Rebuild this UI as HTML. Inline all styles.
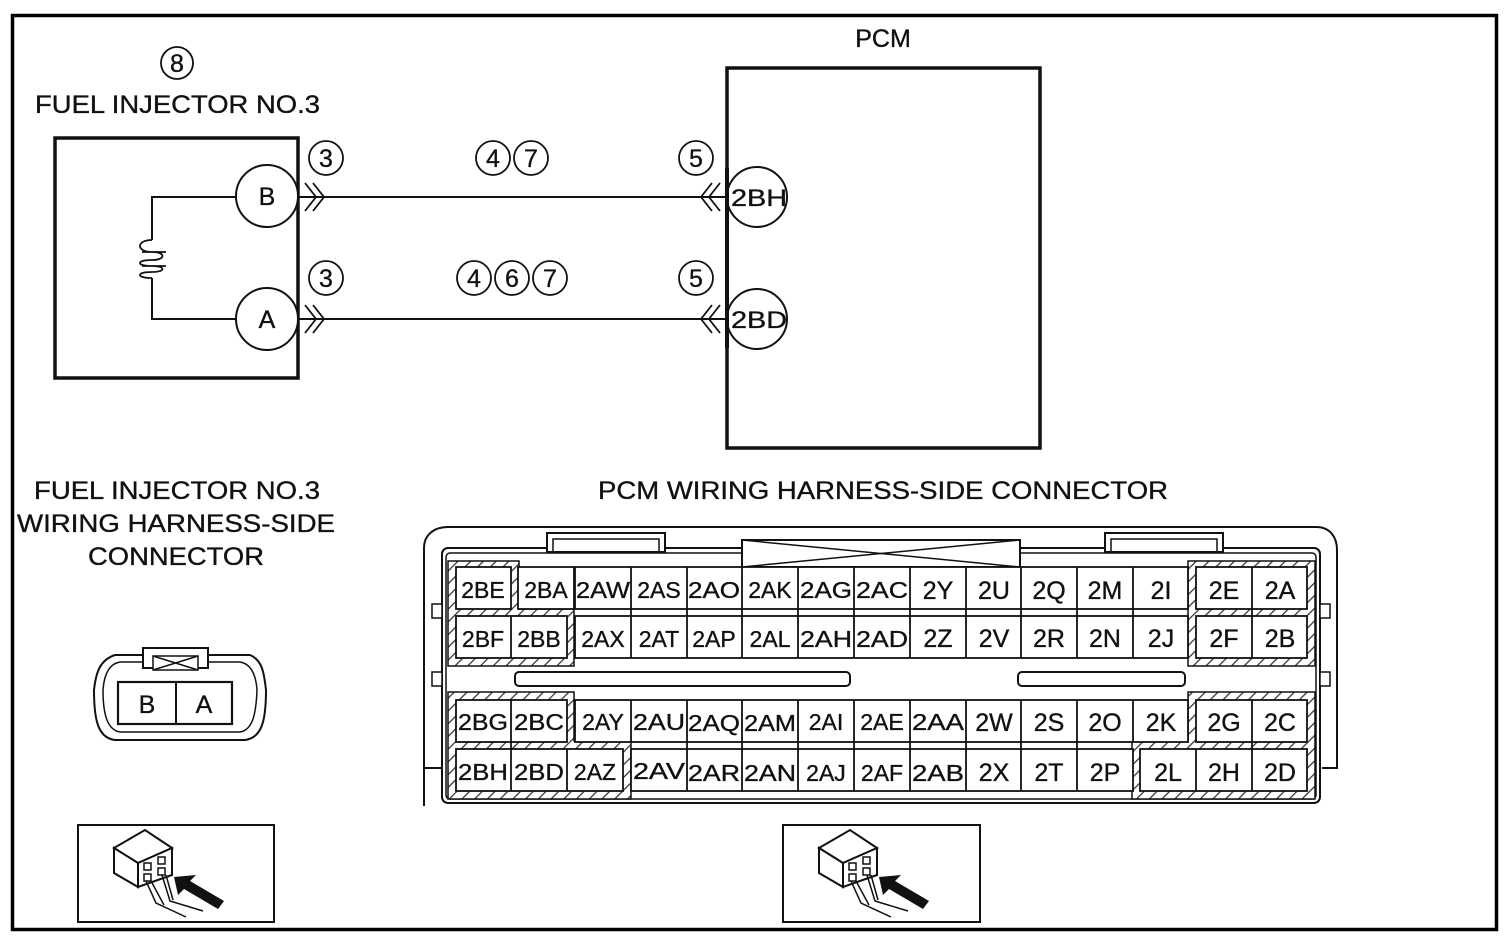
<!DOCTYPE html>
<html><head><meta charset="utf-8"><style>
html,body{margin:0;padding:0;background:#fff;}
svg{display:block;}
text{font-family:"Liberation Sans",sans-serif;fill:#111;stroke:#111;stroke-width:0.35;}
</style></head><body>
<svg width="1510" height="942" viewBox="0 0 1510 942" xmlns="http://www.w3.org/2000/svg">
<defs>
<pattern id="h" width="9" height="9" patternUnits="userSpaceOnUse" patternTransform="rotate(45)">
<rect width="9" height="9" fill="#fff"/><line x1="0" y1="0" x2="0" y2="9" stroke="#333" stroke-width="2.5"/>
</pattern>
<g id="icon">
<polygon points="36,23 67,5 94,23 60,38" fill="#fff" stroke="#111" stroke-width="2"/>
<polygon points="36,23 60,38 60,62 36,48" fill="#fff" stroke="#111" stroke-width="2"/>
<polygon points="60,38 94,23 94,50 60,62" fill="#fff" stroke="#111" stroke-width="2"/>
<rect x="66" y="38" width="7" height="7" fill="none" stroke="#111" stroke-width="1.5"/>
<rect x="80" y="32" width="7" height="7" fill="none" stroke="#111" stroke-width="1.5"/>
<rect x="66" y="49" width="7" height="7" fill="none" stroke="#111" stroke-width="1.5"/>
<rect x="80" y="43" width="7" height="7" fill="none" stroke="#111" stroke-width="1.5"/>
<path d="M68,56 L78,78 L108,92 M73,56 L86,80 M84,50 L92,76 L125,86 M88,50 L95,75" fill="none" stroke="#111" stroke-width="1.5"/>
<polygon points="100,70 96,52 118,50 112,56 146,76 140,84 106,64" fill="#111"/>
</g>
</defs>
<rect x="12.5" y="15.5" width="1484" height="914" fill="#fff" stroke="#000" stroke-width="3.5"/>

<text x="883" y="47" font-size="25" text-anchor="middle">PCM</text>
<circle cx="177" cy="63" r="16" fill="none" stroke="#111" stroke-width="1.8"/>
<text x="177" y="72" font-size="25" text-anchor="middle">8</text>
<text x="35" y="113" font-size="25" textLength="285" lengthAdjust="spacingAndGlyphs">FUEL INJECTOR NO.3</text>

<rect x="55" y="138" width="243" height="240" fill="none" stroke="#111" stroke-width="3.5"/>
<path d="M236,197 H152 V240 M152,278 V319 H236" fill="none" stroke="#111" stroke-width="2"/>
<path d="M152,240 C136,240 136,252 152,252 C166,252 166,260 152,260 C136,260 136,266 152,266 C166,266 166,272 152,272 C136,272 136,278 152,278 M142,252 H166 M142,266 H166" fill="none" stroke="#111" stroke-width="1.8"/>
<circle cx="267" cy="196" r="31" fill="#fff" stroke="#111" stroke-width="2"/>
<text x="267" y="205" font-size="25" text-anchor="middle">B</text>
<circle cx="267" cy="319" r="31" fill="#fff" stroke="#111" stroke-width="2"/>
<text x="267" y="328" font-size="25" text-anchor="middle">A</text>

<rect x="727" y="68" width="313" height="380" fill="none" stroke="#111" stroke-width="3.5"/>
<circle cx="757" cy="197" r="30" fill="#fff" stroke="#111" stroke-width="2"/>
<text x="759" y="206" font-size="24" text-anchor="middle" textLength="56" lengthAdjust="spacingAndGlyphs">2BH</text>
<circle cx="757" cy="319" r="30" fill="#fff" stroke="#111" stroke-width="2"/>
<text x="759" y="328" font-size="24" text-anchor="middle" textLength="56" lengthAdjust="spacingAndGlyphs">2BD</text>
<rect x="725" y="168" width="4" height="180" fill="#111"/>

<line x1="298" y1="197" x2="727" y2="197" stroke="#111" stroke-width="2"/>
<line x1="298" y1="319" x2="727" y2="319" stroke="#111" stroke-width="2"/>
<g fill="none" stroke="#111" stroke-width="1.8">
<path d="M305,183 L316,197 L305,211 M313,183 L324,197 L313,211"/>
<path d="M305,305 L316,319 L305,333 M313,305 L324,319 L313,333"/>
<path d="M720,183 L709,197 L720,211 M712,183 L701,197 L712,211"/>
<path d="M720,305 L709,319 L720,333 M712,305 L701,319 L712,333"/>
</g>
<g fill="none" stroke="#111" stroke-width="1.8">
<circle cx="326" cy="158" r="17"/><circle cx="493" cy="158" r="17"/><circle cx="531" cy="158" r="17"/><circle cx="696" cy="158" r="17"/>
<circle cx="326" cy="278" r="17"/><circle cx="474" cy="278" r="17"/><circle cx="512" cy="278" r="17"/><circle cx="550" cy="278" r="17"/><circle cx="696" cy="278" r="17"/>
</g>
<g font-size="25" text-anchor="middle">
<text x="326" y="167">3</text><text x="493" y="167">4</text><text x="531" y="167">7</text><text x="696" y="167">5</text>
<text x="326" y="287">3</text><text x="474" y="287">4</text><text x="512" y="287">6</text><text x="550" y="287">7</text><text x="696" y="287">5</text>
</g>

<g font-size="25" text-anchor="middle">
<text x="177" y="499" textLength="286" lengthAdjust="spacingAndGlyphs">FUEL INJECTOR NO.3</text>
<text x="176" y="532" textLength="318" lengthAdjust="spacingAndGlyphs">WIRING HARNESS-SIDE</text>
<text x="176" y="565" textLength="176" lengthAdjust="spacingAndGlyphs">CONNECTOR</text>
<text x="883" y="499" textLength="570" lengthAdjust="spacingAndGlyphs">PCM WIRING HARNESS-SIDE CONNECTOR</text>
</g>

<path d="M140,655 H250 C262,660 264,672 266,690 C266,720 262,738 245,740 H115 C98,738 94,720 94,690 C96,672 100,660 115,655 Z" fill="#fff" stroke="#111" stroke-width="2"/>
<path d="M120,662 H240 C252,664 256,676 257,690 C256,716 252,730 240,732 H120 C108,730 103,716 103,690 C104,676 108,664 120,662 Z" fill="none" stroke="#111" stroke-width="1.5"/>
<rect x="143" y="648" width="65" height="20" fill="#fff" stroke="#111" stroke-width="2"/>
<rect x="153" y="656" width="45" height="14" fill="#fff" stroke="#111" stroke-width="1.5"/>
<path d="M153,656 L198,670 M198,656 L153,670" stroke="#111" stroke-width="1.5"/>
<rect x="118" y="682" width="114" height="42" fill="#fff" stroke="#111" stroke-width="2.2"/>
<line x1="176" y1="682" x2="176" y2="724" stroke="#111" stroke-width="2"/>
<text x="147" y="713" font-size="25" text-anchor="middle">B</text>
<text x="204" y="713" font-size="25" text-anchor="middle">A</text>

<rect x="78" y="825" width="196" height="97" fill="#fff" stroke="#111" stroke-width="2"/>
<use href="#icon" x="78" y="825"/>
<rect x="783" y="825" width="197" height="97" fill="#fff" stroke="#111" stroke-width="2"/>
<use href="#icon" x="783" y="825"/>

<path d="M424,806 V548 C424,535 434,527 448,527 H1316 C1330,527 1337,537 1337,550 V768 H1322" fill="none" stroke="#111" stroke-width="2"/>
<path d="M424,768 H442" fill="none" stroke="#111" stroke-width="2"/>
<rect x="442" y="548" width="878" height="255" rx="6" fill="#fff" stroke="#111" stroke-width="2"/>
<rect x="446" y="553" width="870" height="246" rx="4" fill="none" stroke="#111" stroke-width="1.5"/>
<rect x="547" y="533" width="118" height="19" fill="#fff" stroke="#111" stroke-width="2"/>
<rect x="553" y="539" width="106" height="13" fill="none" stroke="#111" stroke-width="1.5"/>
<rect x="1105" y="533" width="118" height="19" fill="#fff" stroke="#111" stroke-width="2"/>
<rect x="1111" y="539" width="106" height="13" fill="none" stroke="#111" stroke-width="1.5"/>
<rect x="742" y="540" width="278" height="27" fill="#fff" stroke="#111" stroke-width="2"/>
<path d="M742,540 L1020,567 M1020,540 L742,567" stroke="#111" stroke-width="1.5"/>
<rect x="432" y="604" width="10" height="14" fill="#fff" stroke="#111" stroke-width="1.5"/>
<rect x="432" y="672" width="10" height="14" fill="#fff" stroke="#111" stroke-width="1.5"/>
<rect x="1320" y="604" width="10" height="14" fill="#fff" stroke="#111" stroke-width="1.5"/>
<rect x="1320" y="672" width="10" height="14" fill="#fff" stroke="#111" stroke-width="1.5"/>
<rect x="515" y="672" width="335" height="14" rx="4" fill="#fff" stroke="#111" stroke-width="2"/>
<rect x="1018" y="672" width="167" height="14" rx="4" fill="#fff" stroke="#111" stroke-width="2"/>

<g fill="url(#h)" stroke="#111" stroke-width="1.5">
<polygon points="448,561 519,561 519,609 574,609 574,666 448,666"/>
<polygon points="448,692 574,692 574,741 631,741 631,799 448,799"/>
<polygon points="1188,561 1315,561 1315,666 1188,666"/>
<polygon points="1188,692 1315,692 1315,799 1132,799 1132,741 1188,741"/>
</g>

<g fill="#fff" stroke="#111" stroke-width="1.8">
<rect x="456" y="567" width="55" height="42"/><rect x="518" y="567" width="56" height="42"/>
<rect x="575" y="567" width="613" height="42"/>
<rect x="1196" y="567" width="111" height="42"/>
<rect x="456" y="616" width="111" height="42"/>
<rect x="575" y="616" width="613" height="42"/>
<rect x="1196" y="616" width="111" height="42"/>
<rect x="456" y="700" width="111" height="42"/>
<rect x="575" y="700" width="613" height="42"/>
<rect x="1196" y="700" width="111" height="42"/>
<rect x="456" y="749" width="167" height="42"/>
<rect x="631" y="749" width="502" height="42"/>
<rect x="1140" y="749" width="167" height="42"/>
</g>
<g stroke="#111" stroke-width="1.8">
<line x1="511" y1="616" x2="511" y2="658"/><line x1="511" y1="700" x2="511" y2="791"/><line x1="567" y1="749" x2="567" y2="791"/>
<line x1="1252" y1="567" x2="1252" y2="658"/><line x1="1252" y1="700" x2="1252" y2="791"/><line x1="1196" y1="749" x2="1196" y2="791"/>
<path d="M631,567V658M687,567V658M742,567V658M798,567V658M854,567V658M910,567V658M966,567V658M1021,567V658M1077,567V658M1133,567V658"/>
<path d="M631,700V742M687,700V791M742,700V791M798,700V791M854,700V791M910,700V791M966,700V791M1021,700V791M1077,700V791M1133,700V742"/>
</g>
<g font-size="23" text-anchor="middle">
<text x="483" y="598">2BE</text><text x="546" y="598">2BA</text><text x="603" y="598" textLength="54" lengthAdjust="spacingAndGlyphs">2AW</text><text x="659" y="598">2AS</text><text x="714" y="598" textLength="52" lengthAdjust="spacingAndGlyphs">2AO</text><text x="770" y="598">2AK</text><text x="826" y="598" textLength="52" lengthAdjust="spacingAndGlyphs">2AG</text><text x="882" y="598" textLength="52" lengthAdjust="spacingAndGlyphs">2AC</text><text x="938" y="599" font-size="25">2Y</text><text x="994" y="599" font-size="25">2U</text><text x="1049" y="599" font-size="25">2Q</text><text x="1105" y="599" font-size="25">2M</text><text x="1161" y="599" font-size="25">2I</text><text x="1224" y="599" font-size="25">2E</text><text x="1280" y="599" font-size="25">2A</text>
<text x="483" y="647">2BF</text><text x="539" y="647">2BB</text><text x="603" y="647">2AX</text><text x="659" y="647">2AT</text><text x="714" y="647">2AP</text><text x="770" y="647">2AL</text><text x="826" y="647" textLength="52" lengthAdjust="spacingAndGlyphs">2AH</text><text x="882" y="647" textLength="52" lengthAdjust="spacingAndGlyphs">2AD</text><text x="938" y="647" font-size="25">2Z</text><text x="994" y="647" font-size="25">2V</text><text x="1049" y="647" font-size="25">2R</text><text x="1105" y="647" font-size="25">2N</text><text x="1161" y="647" font-size="25">2J</text><text x="1224" y="647" font-size="25">2F</text><text x="1280" y="647" font-size="25">2B</text>
<text x="483" y="730" textLength="50" lengthAdjust="spacingAndGlyphs">2BG</text><text x="539" y="730" textLength="50" lengthAdjust="spacingAndGlyphs">2BC</text><text x="603" y="730">2AY</text><text x="659" y="730" textLength="52" lengthAdjust="spacingAndGlyphs">2AU</text><text x="714" y="731" textLength="52" lengthAdjust="spacingAndGlyphs">2AQ</text><text x="770" y="731" textLength="52" lengthAdjust="spacingAndGlyphs">2AM</text><text x="826" y="730">2AI</text><text x="882" y="730">2AE</text><text x="938" y="730" textLength="52" lengthAdjust="spacingAndGlyphs">2AA</text><text x="994" y="731" font-size="25">2W</text><text x="1049" y="731" font-size="25">2S</text><text x="1105" y="731" font-size="25">2O</text><text x="1161" y="731" font-size="25">2K</text><text x="1224" y="731" font-size="25">2G</text><text x="1280" y="731" font-size="25">2C</text>
<text x="483" y="780" textLength="50" lengthAdjust="spacingAndGlyphs">2BH</text><text x="539" y="780" textLength="50" lengthAdjust="spacingAndGlyphs">2BD</text><text x="595" y="780">2AZ</text><text x="659" y="779" textLength="52" lengthAdjust="spacingAndGlyphs">2AV</text><text x="714" y="781" textLength="52" lengthAdjust="spacingAndGlyphs">2AR</text><text x="770" y="781" textLength="52" lengthAdjust="spacingAndGlyphs">2AN</text><text x="826" y="781">2AJ</text><text x="882" y="781">2AF</text><text x="938" y="781" textLength="52" lengthAdjust="spacingAndGlyphs">2AB</text><text x="994" y="781" font-size="25">2X</text><text x="1049" y="781" font-size="25">2T</text><text x="1105" y="781" font-size="25">2P</text><text x="1168" y="781" font-size="25">2L</text><text x="1224" y="781" font-size="25">2H</text><text x="1280" y="781" font-size="25">2D</text>
</g>
</svg>
</body></html>
